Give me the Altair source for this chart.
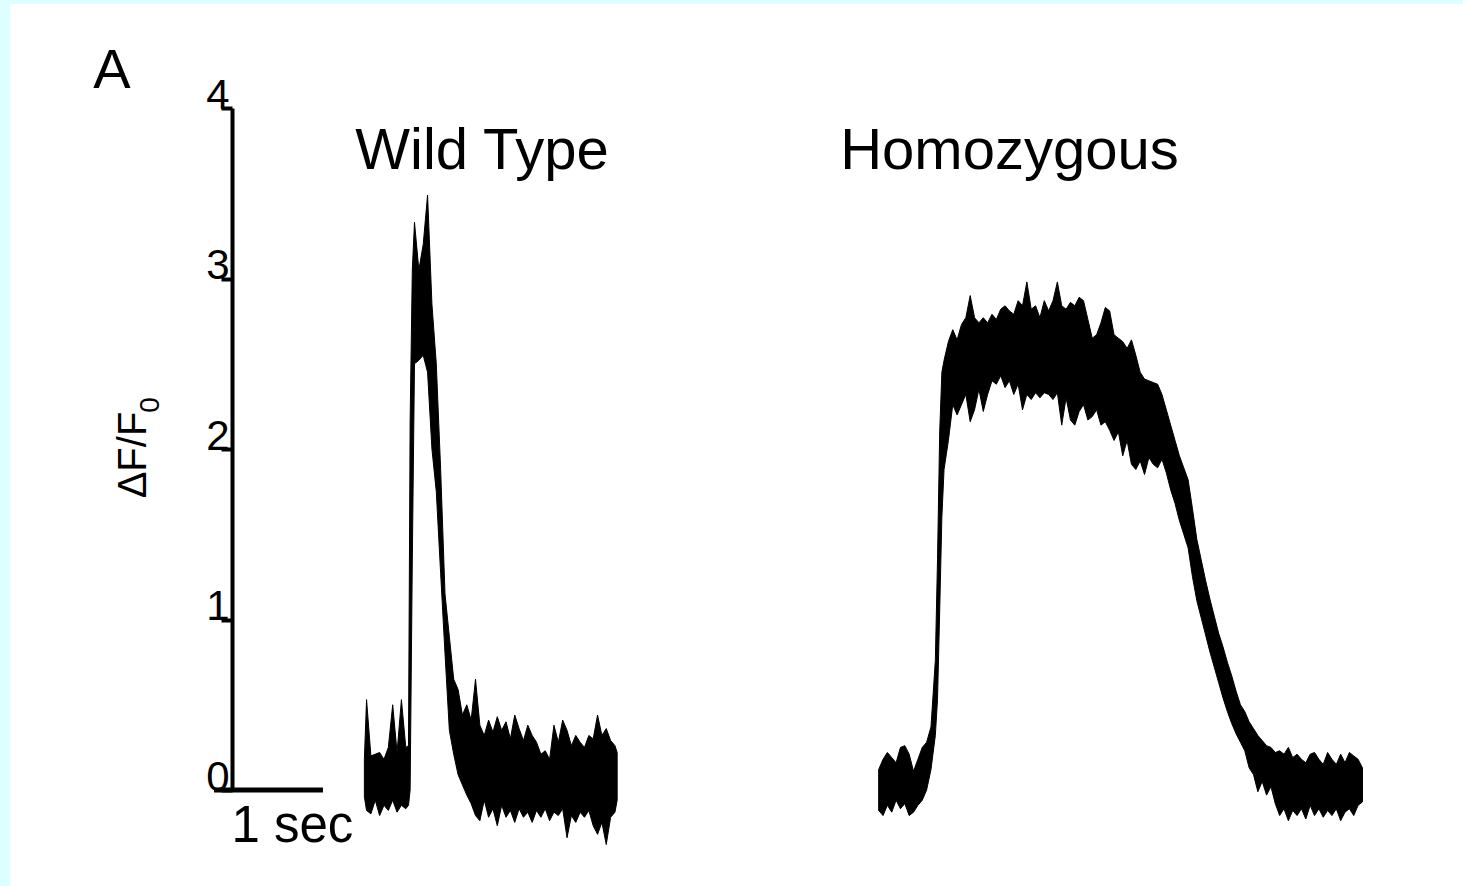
import altair as alt
import pandas as pd

# ---------------- data ----------------
# Wild Type trace: time (s), upper and lower edge of the noisy band (dF/F0)
WT_T = [1.38, 1.40, 1.44, 1.48, 1.52, 1.56, 1.60, 1.64, 1.68, 1.72, 1.76, 1.785,
        1.80, 1.82,
        1.84, 1.88, 1.92, 1.96, 2.00, 2.04, 2.08, 2.12, 2.16, 2.20,
        2.24, 2.28, 2.32, 2.36, 2.40, 2.44, 2.48, 2.52, 2.56, 2.60,
        2.64, 2.68, 2.72, 2.76, 2.80, 2.84, 2.88, 2.92, 2.96, 3.00,
        3.04, 3.08, 3.12, 3.16, 3.20, 3.24, 3.28, 3.32, 3.36, 3.40,
        3.44, 3.48, 3.52, 3.56, 3.60, 3.64, 3.68, 3.70]
WT_HI = [0.18, 0.53, 0.20, 0.21, 0.22, 0.18, 0.25, 0.50, 0.22, 0.53, 0.25, 0.26,
         2.17, 3.05,
         3.33, 3.05, 3.20, 3.49, 2.85, 2.50, 1.88, 1.15, 0.90, 0.65,
         0.59, 0.44, 0.50, 0.41, 0.65, 0.38, 0.32, 0.41, 0.34, 0.43,
         0.35, 0.40, 0.30, 0.44, 0.36, 0.29, 0.38, 0.32, 0.28, 0.21,
         0.23, 0.18, 0.38, 0.28, 0.41, 0.35, 0.26, 0.32, 0.28, 0.25,
         0.32, 0.30, 0.44, 0.32, 0.36, 0.29, 0.26, 0.22]
WT_LO = [-0.04, -0.12, -0.14, -0.06, -0.15, -0.09, -0.12, -0.06, -0.13, -0.09, -0.11, -0.09,
         0.00, 1.35,
         2.50, 2.52, 2.55, 2.45, 2.00, 1.75, 1.27, 0.80, 0.35, 0.21,
         0.09, 0.03, -0.03, -0.08, -0.15, -0.18, -0.06, -0.16, -0.11, -0.21,
         -0.09, -0.16, -0.12, -0.19, -0.11, -0.16, -0.13, -0.19, -0.12, -0.16,
         -0.11, -0.18, -0.13, -0.15, -0.11, -0.28, -0.15, -0.19, -0.13, -0.16,
         -0.12, -0.21, -0.26, -0.19, -0.32, -0.16, -0.13, -0.06]

# Homozygous trace
HO_T = [6.10, 6.14, 6.18, 6.22, 6.26, 6.30, 6.34, 6.38, 6.42, 6.46, 6.50, 6.54, 6.58, 6.62,
        6.64, 6.66, 6.68,
        6.70, 6.74, 6.78, 6.82, 6.86, 6.90, 6.94, 6.98, 7.02, 7.06,
        7.10, 7.14, 7.18, 7.22, 7.26, 7.30, 7.34, 7.38, 7.42, 7.46,
        7.50, 7.54, 7.58, 7.62, 7.66, 7.70, 7.74, 7.78, 7.82, 7.86,
        7.90, 7.94, 7.98, 8.02, 8.06, 8.10, 8.14, 8.18, 8.22, 8.26,
        8.30, 8.34, 8.38, 8.42, 8.46, 8.50, 8.54, 8.58, 8.62, 8.66,
        8.70, 8.74, 8.78, 8.82, 8.86, 8.90, 8.94, 8.98, 9.02, 9.06,
        9.10, 9.14, 9.18, 9.22, 9.26, 9.30, 9.34, 9.38, 9.42, 9.46,
        9.50, 9.54, 9.58, 9.62, 9.66, 9.70, 9.74, 9.78, 9.82, 9.86,
        9.90, 9.94, 9.98, 10.02, 10.06, 10.10, 10.14, 10.18, 10.22, 10.26,
        10.30, 10.34, 10.38, 10.42, 10.46, 10.50, 10.54]
HO_HI = [0.12, 0.18, 0.22, 0.19, 0.16, 0.25, 0.26, 0.21, 0.11, 0.18, 0.25, 0.28, 0.37, 0.76,
         1.35, 2.10, 2.45,
         2.52, 2.63, 2.70, 2.64, 2.73, 2.77, 2.90, 2.77, 2.74, 2.77,
         2.74, 2.79, 2.76, 2.82, 2.84, 2.81, 2.79, 2.87, 2.84, 2.98,
         2.82, 2.84, 2.77, 2.87, 2.81, 2.87, 2.98, 2.84, 2.82, 2.86,
         2.84, 2.89, 2.87, 2.76, 2.65, 2.67, 2.74, 2.83, 2.81, 2.67,
         2.65, 2.63, 2.59, 2.64, 2.55, 2.45, 2.41, 2.40, 2.39, 2.38,
         2.32, 2.23, 2.14, 2.05, 1.96, 1.89, 1.82, 1.65, 1.47, 1.35,
         1.23, 1.12, 1.02, 0.92, 0.84, 0.75, 0.67, 0.58, 0.50, 0.46,
         0.40, 0.36, 0.32, 0.29, 0.26, 0.25, 0.22, 0.23, 0.21, 0.25,
         0.19, 0.21, 0.18, 0.16, 0.21, 0.22, 0.18, 0.15, 0.22, 0.18,
         0.15, 0.21, 0.16, 0.22, 0.20, 0.18, 0.13]
HO_LO = [-0.12, -0.15, -0.09, -0.13, -0.06, -0.11, -0.08, -0.15, -0.13, -0.09, -0.06, 0.00, 0.12, 0.32,
         0.53, 1.05, 1.60,
         1.88, 2.05, 2.26, 2.20, 2.26, 2.32, 2.16, 2.23, 2.35, 2.22,
         2.32, 2.40, 2.38, 2.43, 2.36, 2.40, 2.32, 2.38, 2.23, 2.32,
         2.29, 2.33, 2.30, 2.33, 2.32, 2.29, 2.33, 2.14, 2.30, 2.17,
         2.14, 2.22, 2.26, 2.17, 2.19, 2.23, 2.14, 2.16, 2.11, 2.05,
         2.10, 1.96, 2.05, 1.91, 1.88, 1.93, 1.85, 1.95, 1.91, 1.89,
         1.94, 1.86, 1.76, 1.68, 1.58, 1.50, 1.42, 1.25, 1.11, 1.01,
         0.91, 0.81, 0.72, 0.63, 0.54, 0.46, 0.39, 0.33, 0.28, 0.23,
         0.13, 0.09, -0.01, 0.05, -0.03, 0.02, -0.08, -0.15, -0.11, -0.18,
         -0.12, -0.15, -0.11, -0.17, -0.09, -0.15, -0.11, -0.16, -0.12, -0.15,
         -0.11, -0.18, -0.13, -0.11, -0.15, -0.09, -0.07]

Y_TICKS = [0, 1, 2, 3, 4]
PANEL_TITLES = ["Wild Type", "Homozygous"]
PANEL_TITLE_T = [2.46, 7.30]
PANEL_TITLE_V = [3.642, 3.642]
SCALE_BAR_T = [0.0, 1.0]
SCALE_BAR_LABEL = "1 sec"
Y_LABEL = "\u0394F/F"
Y_LABEL_SUB = "0"
PANEL_LETTER = "A"

FONT = "Liberation Sans"

# ---------------- tables ----------------
traces = pd.concat([
    pd.DataFrame({"t": WT_T, "hi": WT_HI, "lo": WT_LO, "trace": "Wild Type"}),
    pd.DataFrame({"t": HO_T, "hi": HO_HI, "lo": HO_LO, "trace": "Homozygous"}),
], ignore_index=True)

titles = pd.DataFrame({"label": PANEL_TITLES, "t": PANEL_TITLE_T, "v": PANEL_TITLE_V})
bar = pd.DataFrame({"t": [SCALE_BAR_T[0]], "t2": [SCALE_BAR_T[1]], "v": [0.0]})
bar_label = pd.DataFrame({"label": [SCALE_BAR_LABEL], "t": [0.16], "v": [-0.305]})
one = pd.DataFrame({"a": [0]})

x_scale = alt.Scale(domain=[0, 10.6], nice=False, zero=False)
y_scale = alt.Scale(domain=[0, 4], nice=False, zero=False)
y_axis = alt.Axis(values=Y_TICKS, title=None, grid=False, offset=-18, zindex=2,
                  domainColor="black", domainWidth=4,
                  tickColor="black", tickWidth=4, tickSize=11,
                  labelFont=FONT, labelFontSize=42, labelColor="black",
                  labelPadding=-8, labelBaseline="alphabetic", labelAlign="right",
                  labelFlush=False, format="d")

frame = alt.Chart(one).mark_rect(color="white").encode(
    x=alt.value(-204), x2=alt.value(1249), y=alt.value(-104), y2=alt.value(778))

band = alt.Chart(traces).mark_area(color="black", stroke="black", strokeWidth=1,
                                   interpolate="linear").encode(
    x=alt.X("t:Q", scale=x_scale, axis=None),
    y=alt.Y("hi:Q", scale=y_scale, axis=y_axis),
    y2="lo:Q",
    detail="trace:N",
)

scale_bar = alt.Chart(bar).mark_rule(color="black", strokeWidth=5).encode(
    x=alt.X("t:Q", scale=x_scale, axis=None), x2="t2:Q",
    y=alt.Y("v:Q", scale=y_scale, axis=y_axis))

scale_text = alt.Chart(bar_label).mark_text(font=FONT, fontSize=51, color="black",
                                             align="left", baseline="alphabetic").encode(
    x=alt.X("t:Q", scale=x_scale, axis=None),
    y=alt.Y("v:Q", scale=y_scale, axis=y_axis), text="label:N")

title_text = alt.Chart(titles).mark_text(font=FONT, fontSize=58, color="black",
                                          align="center", baseline="alphabetic").encode(
    x=alt.X("t:Q", scale=x_scale, axis=None),
    y=alt.Y("v:Q", scale=y_scale, axis=y_axis), text="label:N")

letter = alt.Chart(one).mark_text(font=FONT, fontSize=56, color="black", align="center",
                                  baseline="alphabetic", text=PANEL_LETTER).encode(
    x=alt.value(-102), y=alt.value(-20))

ylab = alt.Chart(one).mark_text(font=FONT, fontSize=40, color="black", align="center",
                                baseline="alphabetic", angle=270, text=Y_LABEL).encode(
    x=alt.value(-68), y=alt.value(347))

ylab_sub = alt.Chart(one).mark_text(font=FONT, fontSize=28, color="black", align="center",
                                    baseline="alphabetic", angle=270, text=Y_LABEL_SUB).encode(
    x=alt.value(-55), y=alt.value(297))

chart = alt.layer(frame, band, scale_bar, scale_text, title_text, letter, ylab, ylab_sub).properties(
    width=1155, height=682,
    padding={"left": 214, "top": 108, "right": 94, "bottom": 96},
    autosize=alt.AutoSizeParams(type="none"),
    background="#ddffff",
).configure_view(strokeWidth=0)

chart.save("out.html", embed_options={"renderer": "svg", "actions": False})
